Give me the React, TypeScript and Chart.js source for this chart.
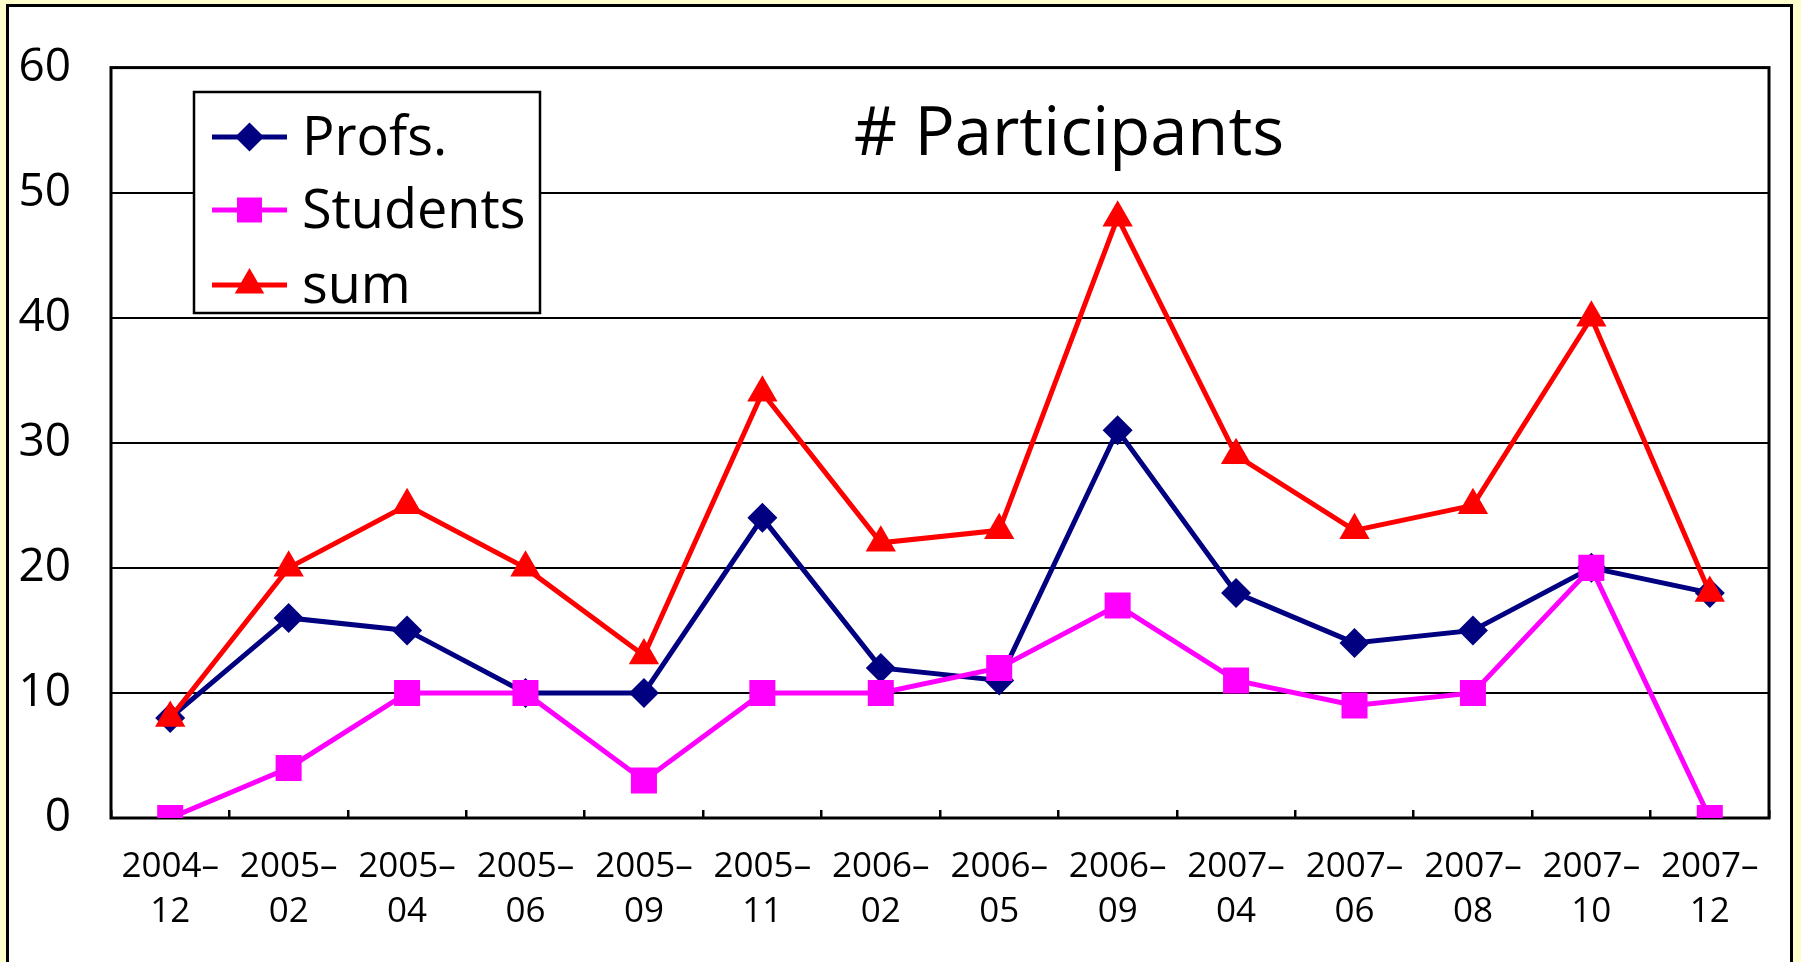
import React, { useEffect, useRef } from "react";
import { Chart, registerables } from "chart.js";

Chart.register(...registerables);

const categories = [
  "2004-12", "2005-02", "2005-04", "2005-06", "2005-09", "2005-11", "2006-02",
  "2006-05", "2006-09", "2007-04", "2007-06", "2007-08", "2007-10", "2007-12",
];
const profs = [8, 16, 15, 10, 10, 24, 12, 11, 31, 18, 14, 15, 20, 18];
const students = [0, 4, 10, 10, 3, 10, 10, 12, 17, 11, 9, 10, 20, 0];
const sums = [8, 20, 25, 20, 13, 34, 22, 23, 48, 29, 23, 25, 40, 18];
const yTicks = [0, 10, 20, 30, 40, 50, 60];
const titleText = "# Participants";
const seriesNames = ["Profs.", "Students", "sum"];

const FONT = "'Open Sans', 'Noto Sans', sans-serif";

function drawMarker(ctx: CanvasRenderingContext2D, style: string, x: number, y: number, color: string) {
  ctx.save();
  ctx.fillStyle = color;
  ctx.beginPath();
  if (style === "rectRot") {
    const r = 14.5;
    ctx.moveTo(x, y - r);
    ctx.lineTo(x + r, y);
    ctx.lineTo(x, y + r);
    ctx.lineTo(x - r, y);
  } else if (style === "rect") {
    const s = 12.5;
    ctx.rect(x - s, y - s, 2 * s, 2 * s);
  } else {
    const r = 17;
    ctx.moveTo(x, y - r);
    ctx.lineTo(x + r * 0.866, y + r * 0.5);
    ctx.lineTo(x - r * 0.866, y + r * 0.5);
  }
  ctx.closePath();
  ctx.fill();
  ctx.restore();
}

const framePlugin = {
  id: "frame",
  beforeDatasetsDraw(chart: any) {
    const { ctx, chartArea } = chart;
    ctx.save();
    ctx.strokeStyle = "#000";
    ctx.lineWidth = 3;
    ctx.strokeRect(chartArea.left, chartArea.top, chartArea.right - chartArea.left, chartArea.bottom - chartArea.top);
    ctx.restore();
  },
};

const overlayPlugin = {
  id: "overlay",
  afterDraw(chart: any) {
    const { ctx } = chart;
    ctx.save();
    // title
    ctx.fillStyle = "#000";
    ctx.font = `67px ${FONT}`;
    ctx.textAlign = "center";
    ctx.textBaseline = "alphabetic";
    ctx.fillText(titleText, 1069, 155);

    // legend box
    const bx = 194, by = 92, bw = 346, bh = 221;
    ctx.fillStyle = "#fff";
    ctx.fillRect(bx, by, bw, bh);
    ctx.strokeStyle = "#000";
    ctx.lineWidth = 2.5;
    ctx.strokeRect(bx, by, bw, bh);

    const rows = [137, 210, 285];
    chart.data.datasets
      .slice()
      .sort((a: any, b: any) => a.legendIndex - b.legendIndex)
      .forEach((ds: any, i: number) => {
        const y = rows[i];
        ctx.strokeStyle = ds.borderColor;
        ctx.lineWidth = 5;
        ctx.beginPath();
        ctx.moveTo(212, y);
        ctx.lineTo(287, y);
        ctx.stroke();
        drawMarker(ctx, ds.pointStyle, 249.5, y, ds.backgroundColor);
        ctx.fillStyle = "#000";
        ctx.font = `54px ${FONT}`;
        ctx.textAlign = "left";
        ctx.textBaseline = "alphabetic";
        ctx.fillText(ds.label, 302, y + 18);
      });
    ctx.restore();
  },
};

export default function App() {
  const canvasRef = useRef<HTMLCanvasElement | null>(null);

  useEffect(() => {
    const canvas = canvasRef.current;
    if (!canvas) return;
    const chart = new Chart(canvas, {
      type: "line",
      data: {
        labels: categories,
        datasets: [
          {
            label: seriesNames[0],
            data: profs,
            borderColor: "#000080",
            backgroundColor: "#000080",
            pointStyle: "rectRot",
            pointRadius: 15,
            pointBorderWidth: 0,
            borderWidth: 5,
            tension: 0,
            order: 2,
            legendIndex: 0,
          } as any,
          {
            label: seriesNames[1],
            data: students,
            borderColor: "#FF00FF",
            backgroundColor: "#FF00FF",
            pointStyle: "rect",
            pointRadius: 18.4,
            pointBorderWidth: 0,
            borderWidth: 5,
            tension: 0,
            order: 1,
            legendIndex: 1,
          } as any,
          {
            label: seriesNames[2],
            data: sums,
            borderColor: "#FF0000",
            backgroundColor: "#FF0000",
            pointStyle: "triangle",
            pointRadius: 17.5,
            pointBorderWidth: 0,
            borderWidth: 5,
            tension: 0,
            order: 0,
            legendIndex: 2,
          } as any,
        ],
      },
      options: {
        responsive: false,
        animation: false,
        devicePixelRatio: 1,
        layout: { padding: { left: 0, right: 32, top: 65, bottom: 0 } },
        plugins: {
          legend: { display: false },
          title: { display: false },
          tooltip: { enabled: false },
        },
        scales: {
          x: {
            type: "category",
            offset: true,
            afterFit: (s: any) => {
              s.height = 144;
            },
            grid: {
              display: true,
              offset: true,
              drawOnChartArea: false,
              drawTicks: true,
              tickLength: -8,
              color: "#000",
              lineWidth: 2.5,
            },
            border: { display: false },
            ticks: {
              color: "#000",
              font: { family: FONT, size: 35, lineHeight: 1.28 },
              padding: 35,
              maxRotation: 0,
              autoSkip: false,
              callback: function (this: any, value: any) {
                const lab: string = this.getLabelForValue(value);
                const parts = lab.split("-");
                return [parts[0] + "–", parts[1]];
              },
            },
          },
          y: {
            min: yTicks[0],
            max: yTicks[yTicks.length - 1],
            afterFit: (s: any) => {
              s.width = 111;
            },
            afterBuildTicks: (s: any) => {
              s.ticks = yTicks.map((v) => ({ value: v }));
            },
            grid: {
              color: "#000",
              lineWidth: 2,
              drawTicks: false,
            },
            border: { display: false },
            ticks: {
              color: "#000",
              font: { family: FONT, size: 46 },
              padding: 40,
            },
          },
        },
      },
      plugins: [framePlugin, overlayPlugin],
    });
    return () => chart.destroy();
  }, []);

  return (
    <div
      style={{
        position: "fixed",
        left: 0,
        top: 0,
        width: 1801,
        height: 962,
        background: "#FFFFCC",
        overflow: "hidden",
      }}
    >
      <div
        style={{
          position: "absolute",
          left: 6,
          top: 4,
          width: 1787,
          height: 1000,
          border: "3px solid #000",
          boxSizing: "border-box",
          background: "#fff",
        }}
      />
      <canvas
        ref={canvasRef}
        width={1801}
        height={962}
        style={{ position: "absolute", left: 0, top: 0, width: 1801, height: 962 }}
      />
    </div>
  );
}
